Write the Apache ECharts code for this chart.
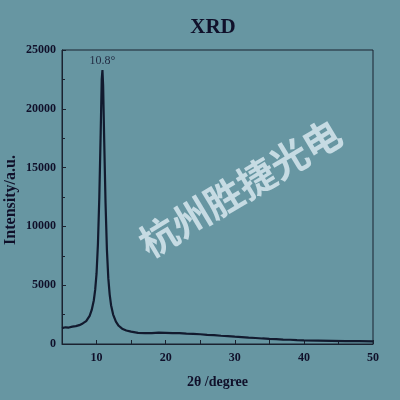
<!DOCTYPE html>
<html><head><meta charset="utf-8">
<script src="https://cdn.jsdelivr.net/npm/echarts@6/dist/echarts.min.js"></script>
<style>html,body{margin:0;padding:0;background:#6796a2;}#c{width:400px;height:400px;}</style>
</head><body><div id="c"></div>
<script>
var twoTheta = [5.0,5.5,6.0,6.5,7.0,7.5,8.0,8.5,9.0,9.3,9.6,9.8,10.0,10.2,10.4,10.6,10.75,10.85,10.95,11.1,11.3,11.5,11.7,11.9,12.1,12.4,12.8,13.2,13.7,14.3,15,16,17,18,19,20,21,22,23,24,25,26,27,28,29,30,31,32,33,34,35,36,37,38,39,40,42,44,46,48,50];
var intensity = [1350,1420,1400,1480,1520,1600,1750,1950,2400,2900,3700,4600,6000,8500,12500,18000,22500,23300,22000,17500,12000,8000,5600,4200,3300,2500,1900,1550,1300,1150,1050,950,930,920,960,950,930,930,890,860,830,780,750,700,670,620,590,540,510,470,440,420,380,360,330,310,290,270,250,240,230];
var peakLabel = '10.8°';
var xTicks = [10,20,30,40,50];
var yTicks = [0,5000,10000,15000,20000,25000];
var yName = 'Intensity/a.u.';

var peakIdx = intensity.indexOf(Math.max.apply(null, intensity));
var serif = 'Liberation Serif';
var ink = '#10102a';
var chart = echarts.init(document.getElementById('c'));
chart.setOption({
  backgroundColor:'#6796a2',
  animation:false,
  title:{text:'XRD', left:208, textAlign:'center', top:12, textStyle:{fontFamily:serif, fontWeight:'bold', fontSize:21, color:ink}},
  grid:{left:62, right:27, top:50, bottom:56, containLabel:false, outerBoundsMode:'none', show:true, borderColor:'#1a2230', borderWidth:1},
  xAxis:{type:'value', min:5, max:50, interval:5,
    axisLine:{lineStyle:{color:'#1a2230'}}, axisTick:{inside:true, length:4, lineStyle:{color:'#1a2230'}},
    splitLine:{show:false},
    axisLabel:{fontFamily:serif, fontWeight:'bold', fontSize:12, color:ink, margin:8,
      formatter:function(v){return xTicks.indexOf(v)>=0?String(v):'';}},
    name:'2θ /degree', nameLocation:'middle', nameGap:31, nameTextStyle:{fontFamily:serif, fontWeight:'bold', fontSize:14, color:ink}},
  yAxis:{type:'value', min:0, max:25000, interval:5000,
    axisLine:{show:true, lineStyle:{color:'#1a2230'}}, axisTick:{show:true, inside:true, length:4, lineStyle:{color:'#1a2230'}},
    minorTick:{show:true, splitNumber:2, length:3, lineStyle:{color:'#1a2230'}},
    splitLine:{show:false},
    axisLabel:{fontFamily:serif, fontWeight:'bold', fontSize:12, color:ink, margin:6,
      formatter:function(v){return yTicks.indexOf(v)>=0?String(v):'';}}},
  series:[
    {type:'line', data:twoTheta.map(function(x,i){return [x,intensity[i]];}), showSymbol:false, symbol:'none', lineStyle:{color:'#121a2e', width:2.2}},
    {type:'scatter', data:[[twoTheta[peakIdx], intensity[peakIdx]]], symbolSize:1, itemStyle:{color:'rgba(0,0,0,0)'},
      label:{show:true, position:'top', distance:3, formatter:peakLabel, color:ink, fontFamily:serif, fontSize:12}}
  ],
  graphic:[
    {type:'text', x:11, y:200, rotation:Math.PI/2,
      style:{text:yName, fontFamily:serif, fontWeight:'bold', fontSize:16, fill:ink, align:'center', verticalAlign:'middle'}},
    {type:'text', x:240, y:188, rotation:31*Math.PI/180,
      style:{text:'杭州胜捷光电', fontFamily:'Noto Sans CJK SC', fontWeight:'bold', fontSize:38, fill:'rgba(215,232,238,0.85)', align:'center', verticalAlign:'middle'}}]
});
</script></body></html>
